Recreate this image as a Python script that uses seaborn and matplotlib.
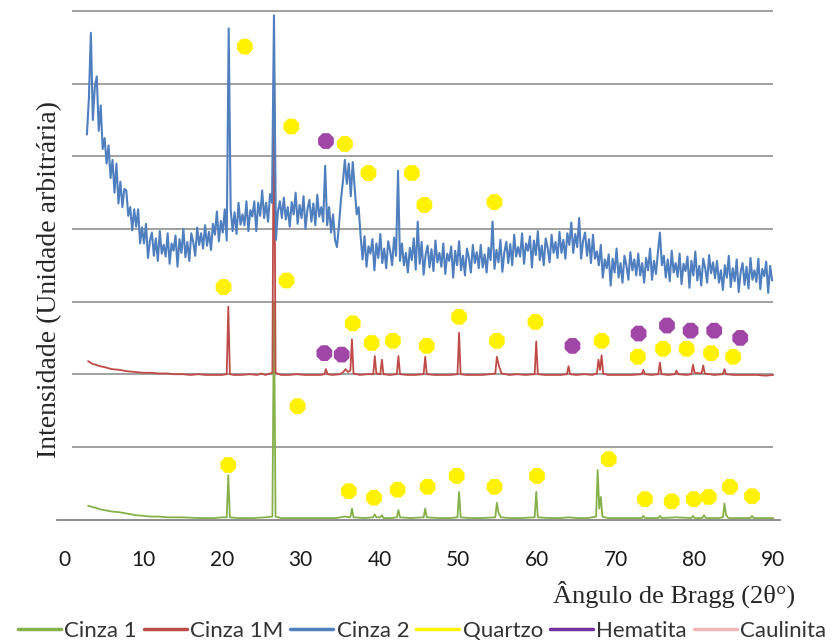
import numpy as np
import matplotlib
matplotlib.use("Agg")
import matplotlib.pyplot as plt
from matplotlib.lines import Line2D
import seaborn as sns

# Cinza 1 (green) - (2theta, intensity)
cinza1_pts = [
    (3.0, 0.19), (3.3, 0.18), (3.6, 0.17), (4.0, 0.16), (4.5, 0.14), (5.0, 0.13),
    (6.0, 0.11), (7.0, 0.10), (8.0, 0.08), (9.0, 0.06), (10.0, 0.05), (11.0, 0.04),
    (12.0, 0.04), (13.0, 0.03), (14.0, 0.03), (15.0, 0.03), (17.0, 0.02), (19.0, 0.02),
    (20.0, 0.03), (20.6, 0.03), (20.8, 0.61), (21.0, 0.03), (22.0, 0.02), (24.0, 0.02),
    (25.5, 0.03), (26.4, 0.04), (26.6, 3.00), (26.8, 0.04), (27.5, 0.02), (29.0, 0.02),
    (31.0, 0.02), (33.0, 0.02), (34.5, 0.02), (35.6, 0.04), (36.3, 0.03), (36.5, 0.15),
    (36.7, 0.03), (38.0, 0.02), (39.2, 0.03), (39.4, 0.07), (39.6, 0.03), (40.1, 0.03),
    (40.3, 0.06), (40.5, 0.02), (41.5, 0.02), (42.2, 0.03), (42.4, 0.13), (42.6, 0.03),
    (44.0, 0.02), (45.6, 0.03), (45.8, 0.15), (46.0, 0.03), (47.5, 0.02), (49.0, 0.02),
    (49.9, 0.03), (50.1, 0.38), (50.3, 0.03), (51.5, 0.02), (53.0, 0.02), (54.7, 0.03),
    (54.9, 0.23), (55.1, 0.10), (55.4, 0.03), (56.5, 0.02), (58.0, 0.02), (59.7, 0.03),
    (59.9, 0.38), (60.1, 0.03), (61.5, 0.02), (63.0, 0.02), (64.0, 0.03), (65.0, 0.02),
    (66.5, 0.02), (67.5, 0.04), (67.7, 0.68), (67.9, 0.15), (68.1, 0.31), (68.3, 0.04),
    (69.0, 0.02), (70.5, 0.02), (72.0, 0.02), (73.3, 0.02), (73.5, 0.05), (73.7, 0.02),
    (75.4, 0.02), (75.6, 0.05), (75.8, 0.02), (77.7, 0.03), (79.6, 0.02), (79.8, 0.05),
    (80.0, 0.02), (81.0, 0.02), (81.2, 0.06), (81.4, 0.02), (83.0, 0.02), (83.6, 0.03),
    (83.8, 0.22), (84.0, 0.06), (84.3, 0.02), (86.0, 0.02), (87.1, 0.02), (87.3, 0.05),
    (87.5, 0.02), (89.0, 0.02), (90.0, 0.02),
]

# Cinza 1M (red)
cinza1m_pts = [
    (3.0, 2.18), (3.3, 2.16), (3.6, 2.14), (4.0, 2.13), (4.5, 2.11), (5.0, 2.10),
    (6.0, 2.07), (7.0, 2.06), (8.0, 2.04), (9.0, 2.03), (10.0, 2.02), (11.0, 2.02),
    (12.0, 2.01), (13.0, 2.01), (14.0, 2.00), (15.0, 2.00), (16.0, 1.99), (17.0, 2.00),
    (18.0, 1.99), (19.0, 1.99), (20.0, 1.99), (20.6, 2.00), (20.8, 2.93), (21.0, 2.00),
    (21.5, 1.99), (22.5, 1.99), (23.5, 2.00), (24.5, 1.99), (25.0, 2.01), (25.5, 1.99),
    (26.4, 2.02), (26.6, 6.60), (26.8, 2.02), (27.5, 1.99), (28.5, 1.99), (29.5, 2.00),
    (30.5, 1.99), (31.5, 1.99), (32.5, 1.99), (33.0, 2.00), (33.2, 2.07), (33.4, 2.00),
    (34.0, 1.99), (35.0, 2.00), (35.4, 2.03), (35.7, 2.07), (36.0, 2.03), (36.3, 2.05),
    (36.5, 2.48), (36.7, 2.01), (37.5, 1.99), (38.5, 2.00), (39.2, 2.00), (39.4, 2.25),
    (39.6, 2.01), (40.1, 2.00), (40.3, 2.20), (40.5, 2.00), (41.3, 1.99), (42.2, 2.00),
    (42.4, 2.25), (42.6, 2.00), (43.5, 1.99), (44.5, 1.99), (45.6, 2.00), (45.8, 2.24),
    (46.0, 2.00), (47.0, 1.99), (48.0, 1.99), (49.0, 1.99), (49.9, 2.00), (50.1, 2.57),
    (50.3, 2.00), (51.0, 1.99), (52.0, 1.99), (53.0, 1.99), (54.0, 2.00), (54.7, 2.01),
    (54.9, 2.24), (55.2, 2.10), (55.5, 2.01), (56.5, 1.99), (57.5, 2.00), (58.5, 1.99),
    (59.7, 2.00), (59.9, 2.45), (60.1, 2.00), (61.0, 1.99), (62.0, 1.99), (63.0, 1.99),
    (63.8, 2.00), (64.0, 2.11), (64.2, 2.00), (65.0, 1.99), (66.0, 2.00), (67.0, 1.99),
    (67.6, 2.01), (67.8, 2.20), (68.0, 2.06), (68.2, 2.26), (68.4, 2.01), (69.0, 1.99),
    (70.0, 1.99), (71.0, 1.99), (72.0, 1.99), (73.3, 2.00), (73.5, 2.06), (73.7, 2.00),
    (74.5, 1.99), (75.4, 2.00), (75.6, 2.16), (75.8, 2.00), (76.7, 1.99), (77.5, 2.00),
    (77.7, 2.05), (77.9, 2.00), (79.0, 1.99), (79.6, 2.00), (79.8, 2.13), (80.0, 2.02),
    (80.9, 2.01), (81.1, 2.12), (81.3, 2.01), (82.5, 1.99), (83.6, 2.00), (83.8, 2.07),
    (84.0, 2.00), (85.0, 1.99), (86.0, 1.99), (87.0, 1.99), (88.0, 1.99), (89.0, 1.98),
    (90.0, 1.99),
]

# Cinza 2 (blue), sampled every 0.25 deg starting at 2.85 deg (one row = 5 deg)
cinza2_start = 2.85
cinza2_step = 0.25
cinza2 = [
    5.30, 5.80, 6.70, 5.50, 5.95, 6.10, 5.35, 5.70, 5.10, 5.25, 4.90, 5.15, 4.70, 4.95, 4.50, 4.90, 4.35, 4.65, 4.30, 4.55,
    4.53, 4.18, 4.30, 3.98, 4.27, 4.03, 4.27, 3.80, 4.02, 3.80, 4.07, 3.60, 3.84, 3.95, 3.63, 3.87, 3.56, 3.97, 3.66, 3.78,
    3.62, 3.94, 3.52, 3.80, 3.70, 3.91, 3.48, 3.86, 3.67, 4.00, 3.61, 3.82, 3.56, 3.94, 3.82, 3.63, 4.02, 3.78, 3.94, 3.73,
    4.05, 3.77, 3.96, 3.71, 4.07, 3.92, 4.24, 3.83, 4.11, 3.95, 4.27, 3.84, 6.76, 4.27, 3.97, 4.23, 3.93, 4.36, 4.06, 4.20,
    4.05, 4.38, 3.97, 4.26, 4.17, 4.38, 3.97, 4.36, 4.18, 4.53, 4.15, 4.36, 4.10, 4.48, 4.36, 6.94, 3.85, 4.24, 4.38, 4.15,
    4.43, 4.13, 4.30, 4.03, 4.37, 4.20, 4.50, 4.07, 4.33, 4.15, 4.45, 4.00, 4.27, 4.40, 4.10, 4.35, 4.05, 4.47, 4.17, 4.30,
    4.10, 4.87, 4.05, 4.30, 3.95, 4.20, 3.85, 3.75, 4.05, 4.40, 4.65, 4.95, 4.62, 4.90, 4.45, 4.92, 4.55, 4.20, 4.30, 3.90,
    3.58, 3.90, 3.48, 3.76, 3.66, 3.86, 3.43, 3.80, 3.60, 3.93, 3.53, 3.73, 3.46, 3.83, 3.70, 3.50, 3.88, 3.63, 4.80, 3.56,
    3.80, 3.50, 3.67, 3.40, 3.74, 3.57, 3.87, 3.44, 4.10, 3.52, 3.82, 3.37, 3.64, 3.77, 3.47, 3.72, 3.42, 3.84, 3.54, 3.67,
    3.48, 3.80, 3.38, 3.66, 3.56, 3.76, 3.33, 3.70, 3.50, 3.83, 3.43, 3.63, 3.36, 3.73, 3.60, 3.40, 3.78, 3.53, 3.68, 3.46,
    3.78, 3.47, 3.65, 3.40, 3.74, 3.57, 4.10, 3.45, 3.71, 3.54, 3.85, 3.41, 3.68, 3.82, 3.53, 3.79, 3.50, 3.92, 3.62, 3.75,
    3.62, 3.94, 3.52, 3.80, 3.70, 3.90, 3.47, 3.84, 3.64, 3.97, 3.57, 3.77, 3.50, 3.87, 3.74, 3.54, 3.92, 3.67, 3.82, 3.60,
    3.96, 3.67, 3.85, 3.59, 3.94, 3.78, 4.09, 3.67, 3.93, 3.75, 4.15, 3.59, 3.84, 3.95, 3.63, 3.86, 3.53, 3.92, 3.59, 3.69,
    3.50, 3.78, 3.33, 3.58, 3.46, 3.65, 3.22, 3.59, 3.40, 3.73, 3.33, 3.53, 3.26, 3.63, 3.50, 3.30, 3.68, 3.43, 3.58, 3.36,
    3.66, 3.36, 3.53, 3.26, 3.60, 3.43, 3.73, 3.30, 3.56, 3.38, 3.68, 3.95, 3.50, 3.63, 3.33, 3.58, 3.28, 3.70, 3.40, 3.53,
    3.34, 3.66, 3.24, 3.52, 3.42, 3.62, 3.19, 3.56, 3.36, 3.69, 3.29, 3.49, 3.22, 3.59, 3.46, 3.26, 3.64, 3.39, 3.54, 3.32,
    3.56, 3.26, 3.43, 3.16, 3.50, 3.33, 3.63, 3.20, 3.46, 3.28, 3.58, 3.13, 3.40, 3.53, 3.23, 3.48, 3.18, 3.60, 3.30, 3.43,
    3.27, 3.59, 3.17, 3.45, 3.35, 3.55, 3.12, 3.49, 3.29,
]

# phase markers
quartzo_x = [22.9, 28.8, 35.6, 38.6, 44.1, 45.7, 54.6,
             20.2, 28.2, 36.6, 39.0, 41.7, 46.0, 50.1, 54.9, 59.8, 68.2, 72.8, 76.0, 79.0, 82.1, 84.9,
             20.8, 29.6, 36.1, 39.3, 42.3, 46.1, 49.8, 54.6, 60.0, 69.1, 73.7, 77.1, 79.9, 81.8, 84.5, 87.3]
quartzo_y = [6.51, 5.41, 5.17, 4.77, 4.77, 4.33, 4.37,
             3.20, 3.29, 2.70, 2.43, 2.46, 2.39, 2.79, 2.46, 2.72, 2.46, 2.24, 2.35, 2.35, 2.29, 2.24,
             0.75, 1.56, 0.39, 0.30, 0.41, 0.45, 0.60, 0.45, 0.60, 0.83, 0.28, 0.25, 0.28, 0.31, 0.45, 0.32]
hematita_x = [33.2, 33.0, 35.2, 64.5, 72.9, 76.5, 79.5, 82.5, 85.8]
hematita_y = [5.21, 2.29, 2.27, 2.39, 2.56, 2.67, 2.60, 2.60, 2.50]

xticks = [0, 10, 20, 30, 40, 50, 60, 70, 80, 90]

green = "#86B04A"
red = "#BE4B48"
blue = "#4F7FBE"
yellow = "#FFF200"
purple_mk = "#A046A6"
purple_ln = "#7030A0"
pink = "#F0B8B8"
grey = "#868686"

sns.set_style("white")
plt.rcParams["font.family"] = ["Lato", "DejaVu Sans"]

fig = plt.figure(figsize=(8.34, 6.44), dpi=100)
ax = fig.add_axes([57 / 834, 124.5 / 644, 723 / 834, 508.5 / 644])

ax.hlines([1, 2, 3, 4, 5, 6, 7], 0.95, 90, color=grey, lw=1.1, zorder=0, clip_on=False)

c1x, c1y = zip(*cinza1_pts)
c1mx, c1my = zip(*cinza1m_pts)
c2x = cinza2_start + cinza2_step * np.arange(len(cinza2))

sns.lineplot(x=list(c1x), y=list(c1y), ax=ax, color=green, lw=1.3, estimator=None, sort=False, zorder=2)
sns.lineplot(x=list(c1mx), y=list(c1my), ax=ax, color=red, lw=1.3, estimator=None, sort=False, zorder=3)
sns.lineplot(x=c2x, y=cinza2, ax=ax, color=blue, lw=1.5, estimator=None, sort=False, zorder=4)

sns.scatterplot(x=quartzo_x, y=quartzo_y, ax=ax, marker="8", s=150, color=yellow,
                edgecolor="none", zorder=5)
sns.scatterplot(x=hematita_x, y=hematita_y, ax=ax, marker="8", s=150, color=purple_mk,
                edgecolor="none", zorder=5)

ax.set_xlim(-0.95, 90.85)
ax.set_ylim(0, 7)
ax.set_xticks(xticks)
ax.set_yticks([])
for s in ["left", "right", "top"]:
    ax.spines[s].set_visible(False)
ax.spines["bottom"].set_color(grey)
ax.spines["bottom"].set_linewidth(1.3)
ax.tick_params(axis="x", direction="out", length=6, width=1.1, color=grey,
               labelsize=15, pad=16, labelcolor="#1a1a1a")

ax.set_xlabel("Ângulo de Bragg (2θ°)", family=["Liberation Serif", "DejaVu Serif"],
              fontsize=19, ha="right", va="center")
ax.xaxis.set_label_coords((795 - 57) / 723, (519.5 - 594) / 508.5)
ax.set_ylabel("Intensidade (Unidade arbitrária)", family=["Liberation Serif", "DejaVu Serif"],
              fontsize=20, va="center")
ax.yaxis.set_label_coords((50 - 57) / 723, (519.5 - 280) / 508.5)

handles = [
    Line2D([], [], color=green, lw=2.5),
    Line2D([], [], color=red, lw=2.5),
    Line2D([], [], color=blue, lw=2.5),
    Line2D([], [], color=yellow, lw=2.5),
    Line2D([], [], color=purple_ln, lw=2.5),
    Line2D([], [], color=pink, lw=2.5),
]
labels = ["Cinza 1", "Cinza 1M", "Cinza 2", "Quartzo", "Hematita", "Caulinita"]
leg = fig.legend(handles, labels, loc="center", bbox_to_anchor=(0.506, 1 - 631 / 644),
                 ncol=6, frameon=False, fontsize=16, handlelength=1.94,
                 handletextpad=0.14, columnspacing=0.32, borderaxespad=0, borderpad=0)
for t in leg.get_texts():
    t.set_color("#333333")

fig.savefig("out.png", dpi=100)
